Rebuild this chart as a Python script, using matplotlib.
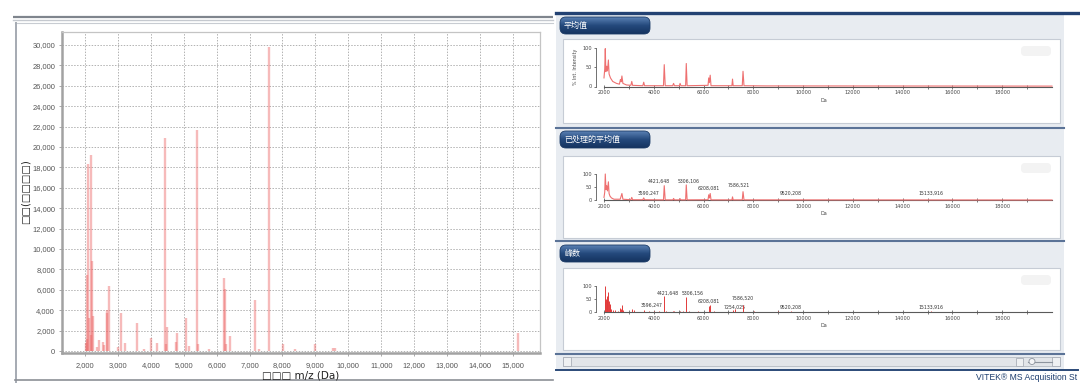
import matplotlib
matplotlib.use('Agg')
import matplotlib.pyplot as plt
from matplotlib.patches import Rectangle, FancyBboxPatch
from matplotlib.colors import LinearSegmentedColormap
import numpy as np

plt.rcParams['font.family'] = ['DejaVu Sans']

# ---------------- data ----------------
# left chart: peak list (m/z, intensity)
main_mz = [2031, 2052, 2062, 2092, 2122, 2173, 2195, 2225, 2255, 2376, 2437, 2547, 2578,
           2659, 2680, 2720, 3012, 3110, 3210, 3588, 3790, 4016, 4198, 4425, 4450, 4500,
           4776, 4807, 5065, 5161, 5415, 5430, 5777, 6225, 6267, 6280, 6413, 7164, 7290,
           7580, 8010, 8395, 8980, 9543, 9585, 15146]
main_int = [750, 7500, 1200, 18360, 3250, 19170, 1560, 8800, 3420, 420, 1070, 900, 600,
            3990, 3680, 6340, 400, 3680, 750, 2700, 200, 1300, 750, 20870, 650, 2400,
            850, 1800, 3200, 500, 21620, 650, 200, 7170, 6030, 650, 1500, 4990, 200,
            29770, 680, 200, 650, 260, 260, 1730]
main_xticks = list(range(2000, 16000, 1000))
main_yticks = list(range(0, 32000, 2000))
main_xlabel = "□□□ m/z (Da)"
main_ylabel = "□□(□□□□)"

# right panel 1: average spectrum (profile points)
avg_mz = [2000, 2030, 2052, 2075, 2110, 2140, 2177, 2205, 2260, 2350, 2500, 2620, 2660, 2690,
          2720, 2760, 2900, 3080, 3116, 3150, 3560, 3596, 3630, 4390, 4421, 4460, 4760, 4796,
          4830, 5030, 5057, 5090, 5280, 5306, 5340, 6180, 6208, 6235, 6267, 6300, 7140, 7164,
          7190, 7555, 7586, 7625, 8500, 20000]
avg_pct = [22, 45, 97, 38, 52, 40, 68, 32, 22, 13, 8, 6, 18, 12,
           27, 8, 4, 3, 13, 3, 2, 11, 2, 2, 56, 2, 2, 8,
           2, 2, 8, 2, 2, 59, 2, 3, 22, 10, 29, 2, 2, 19,
           2, 2, 39, 2, 1.5, 1]

# right panel 2: processed average spectrum (profile points)
proc_mz = [2000, 2030, 2052, 2080, 2110, 2140, 2177, 2205, 2240, 2300, 2400, 2650, 2680, 2720,
           2760, 3080, 3116, 3150, 3560, 3596, 3630, 4390, 4421, 4460, 4770, 4796, 4830, 5030,
           5057, 5090, 5280, 5306, 5340, 6180, 6208, 6235, 6267, 6300, 7140, 7164, 7190, 7555,
           7586, 7625, 20000]
proc_pct = [10, 30, 100, 40, 55, 35, 70, 25, 15, 8, 3, 3, 12, 25,
            3, 1, 10, 1, 1, 8, 1, 0.5, 55, 0.5, 0.5, 6, 0.5, 0.5,
            5, 0.5, 0.5, 58, 0.5, 1, 20, 8, 25, 0.5, 0.5, 12, 0.5, 0.5,
            32, 0.5, 0]
proc_labels = ["3590,247", "4421,648", "5306,106", "6208,081", "7586,521", "9520,208", "15133,916"]
proc_lab_mz = [3590, 4421, 5306, 6208, 7586, 9520, 15133]
proc_lab_y = [27, 73, 73, 46, 58, 27, 27]
proc_lab_dx = [5, -5, 2, 0, -4, 0, 0]          # label nudges in pixels (layout)

# right panel 3: peak list (sticks)
stick_mz = [2030, 2052, 2080, 2110, 2130, 2177, 2200, 2225, 2255, 2300, 2376, 2437, 2547, 2659,
            2680, 2720, 2760, 3108, 3210, 3596, 3790, 4016, 4198, 4421, 4500, 4776, 4807, 5068,
            5161, 5306, 5432, 5777, 6208, 6267, 6413, 7164, 7254, 7586, 8010, 8395, 8980, 9520,
            15133]
stick_pct = [40, 100, 50, 60, 45, 75, 40, 30, 20, 10, 6, 8, 5, 15,
             12, 25, 8, 10, 6, 6, 2, 4, 3, 60, 3, 3, 5, 4,
             2, 58, 3, 2, 22, 25, 5, 8, 10, 28, 2, 1, 2, 3,
             2]
peak_labels = ["3596,247", "4421,648", "5306,156", "6208,081", "7254,025", "7586,520", "9520,208", "15133,916"]
peak_lab_mz = [3596, 4421, 5306, 6208, 7254, 7586, 9520, 15133]
peak_lab_y = [24, 73, 73, 39, 19, 54, 19, 19]
peak_lab_dx = [8, 4, 6, 0, 0, 0, 0, 0]         # label nudges in pixels (layout)

tab_titles = ["平均值", "已处理的平均值", "峰数"]
small_major = list(range(2000, 20000, 2000))
small_minor = list(range(3000, 20001, 2000))
footer = "VITEK® MS Acquisition St"

# ---------------- figure ----------------
W, H = 1080, 383
fig = plt.figure(figsize=(W / 100, H / 100), dpi=100)


def rect(x0, y0, x1, y1):
    return [x0 / W, 1 - y1 / H, (x1 - x0) / W, (y1 - y0) / H]


bg = fig.add_axes([0, 0, 1, 1], zorder=0)
bg.axis('off')

# left panel frame
bg.plot([13, 553], [17, 17], color='#7f858d', lw=1.6, solid_capstyle='butt')
bg.plot([13, 553], [19.5, 19.5], color='#c5c9cf', lw=1.0)
bg.plot([15, 553], [22.5, 22.5], color='#c8ccd2', lw=0.8)
bg.plot([15.5, 15.5], [22.5, 383], color='#a5aab2', lw=1.4)
bg.plot([15, 553], [379.5, 379.5], color='#8c9096', lw=1.2)

# right panel frame
bg.add_patch(Rectangle((556, 14), 508, 355, fc='#e8ecf1', ec='none', zorder=1))
bg.plot([556, 1078], [13, 13], color='#234273', lw=2.4, zorder=2)
for yy in (128, 241, 354):
    bg.plot([556, 1064], [yy, yy], color='#5b7397', lw=1.5, zorder=2)
bg.plot([556, 1078], [369.5, 369.5], color='#2b4a78', lw=1.4, zorder=2)

boxes = [(39, 123), (156, 238), (268, 350)]
tabs_y = [17, 131, 245]
cmap_tab = LinearSegmentedColormap.from_list('tab', ['#5a80b3', '#24497c', '#15335f'])
grad = np.linspace(0, 1, 64).reshape(-1, 1)
for (by0, by1), ty, title in zip(boxes, tabs_y, tab_titles):
    bg.add_patch(Rectangle((563, by0), 497, by1 - by0, fc='white', ec='#c6ccd5', lw=0.8, zorder=2))
    bg.add_patch(FancyBboxPatch((1021, by0 + 7), 30, 10, boxstyle='round,pad=0,rounding_size=4',
                                fc='#f3f3f3', ec='none', zorder=3))
    tab = FancyBboxPatch((560, ty), 90, 17, boxstyle='round,pad=0,rounding_size=6',
                         fc='none', ec='#1a3a66', lw=0.6, zorder=4)
    bg.add_patch(tab)
    im = bg.imshow(grad, extent=(560, 650, ty + 17, ty), cmap=cmap_tab, aspect='auto',
                   origin='upper', zorder=3, interpolation='bilinear')
    im.set_clip_path(tab)
    bg.text(564, ty + 8.5, title, color='white', fontsize=5.8, va='center', ha='left', zorder=5,
            family=['Noto Sans CJK SC', 'DejaVu Sans'])

# scroll bar
bg.add_patch(Rectangle((563, 357), 497, 9, fc='#e2e5e9', ec='#b5bbc3', lw=0.6, zorder=2))
bg.add_patch(Rectangle((563, 357), 8, 9, fc='#eef0f2', ec='#a9afb8', lw=0.6, zorder=3))
bg.add_patch(Rectangle((1052, 357), 8, 9, fc='#eef0f2', ec='#a9afb8', lw=0.6, zorder=3))
bg.add_patch(Rectangle((1016, 357.5), 7, 8, fc='#eef0f2', ec='#a9afb8', lw=0.6, zorder=3))
bg.plot([1028, 1052], [361.5, 361.5], color='#8d949e', lw=0.8, zorder=3)
bg.add_patch(plt.Circle((1032, 361.5), 3, fc='#f4f5f7', ec='#8d949e', lw=0.6, zorder=4))
bg.text(1077, 378, footer, color='#1f3f6f', fontsize=6.2, va='center', ha='right', zorder=5,
        family=['Liberation Sans', 'DejaVu Sans'])

bg.set_xlim(0, W)
bg.set_ylim(H, 0)

# ---------------- main chart ----------------
ax = fig.add_axes(rect(62, 32.3, 540, 352.7), zorder=2)
ax.set_xlim(1307, 15820)
ax.set_ylim(-165, 31240)
ax.vlines(main_mz, 0, main_int, colors='#ec6767', alpha=0.45, lw=1.7, zorder=3)
ax.set_xticks(main_xticks)
ax.set_xticklabels([f'{v:,}' for v in main_xticks])
ax.set_yticks(main_yticks)
ax.set_yticklabels([f'{v:,}' for v in main_yticks])
ax.grid(True, color='#b2b2b2', lw=0.7, ls=(0, (1.5, 1.5)))
ax.set_axisbelow(True)
for s in ('left', 'bottom'):
    ax.spines[s].set_color('#a2a2a2')
    ax.spines[s].set_linewidth(1.8)
for s in ('top', 'right'):
    ax.spines[s].set_color('#c4c4c4')
    ax.spines[s].set_linewidth(0.9)
ax.tick_params(labelsize=5.4, labelcolor='#555555', color='#9a9a9a', length=2.5, width=0.6, pad=2.5)
ax.tick_params(axis='x', pad=4.5)
for lab in ax.get_xticklabels() + ax.get_yticklabels():
    lab.set_family(['Liberation Sans', 'DejaVu Sans'])
fig.text(301 / W, 1 - 376 / H, main_xlabel, fontsize=7.5, ha='center', va='center', color='#222222')
fig.text(26 / W, 1 - 192 / H, main_ylabel, fontsize=7.2, ha='center', va='center', rotation=90,
         color='#222222')


# ---------------- small charts ----------------
def small_axes(y_top, y_bot):
    a = fig.add_axes(rect(596, y_top, 1052, y_bot), zorder=3)
    a.patch.set_alpha(0)
    a.set_xlim(1679, 20000)
    a.set_ylim(0, 100)
    for s in ('top', 'right'):
        a.spines[s].set_visible(False)
    a.spines['bottom'].set_bounds(2000, 20000)
    a.spines['bottom'].set_color('#5a5a5a')
    a.spines['bottom'].set_linewidth(0.8)
    a.spines['left'].set_color('#5a5a5a')
    a.spines['left'].set_linewidth(0.6)
    a.set_xticks(small_major)
    a.set_xticks(small_minor, minor=True)
    a.set_xticklabels([str(v) for v in small_major])
    a.set_yticks([0, 50, 100])
    a.tick_params(axis='x', which='both', direction='inout', length=2.2, width=0.5, color='#444444',
                  labelsize=3.6, labelcolor='#444444', pad=1.5)
    a.tick_params(axis='y', direction='out', length=1.8, width=0.5, color='#444444',
                  labelsize=3.6, labelcolor='#444444', pad=1.2)
    return a


def put_labels(a, texts, mzs, ys, dxs):
    for t, m, yv, dx in zip(texts, mzs, ys, dxs):
        a.annotate(t, (m, yv), xytext=(dx * 0.72, 0), textcoords='offset points',
                   fontsize=3.3, color='#333333', ha='center', va='center', annotation_clip=False)


ax1 = small_axes(47.5, 86.5)
ax1.plot(avg_mz, avg_pct, color='#ee7070', lw=0.8, clip_on=False, zorder=4)
ax1.set_xlabel('Da', fontsize=3.6, color='#444444', labelpad=2)
ax1.set_ylabel('% Int. Intensity', fontsize=3.4, color='#444444', labelpad=3)

ax2 = small_axes(174, 200)
ax2.plot(proc_mz, proc_pct, color='#ee7070', lw=0.8, clip_on=False, zorder=4)
ax2.set_xlabel('Da', fontsize=3.6, color='#444444', labelpad=2)
put_labels(ax2, proc_labels, proc_lab_mz, proc_lab_y, proc_lab_dx)

ax3 = small_axes(285.7, 312)
ax3.vlines(stick_mz, 0, stick_pct, colors='#e23a3a', lw=0.7, zorder=4)
ax3.set_xlabel('Da', fontsize=3.6, color='#444444', labelpad=2)
put_labels(ax3, peak_labels, peak_lab_mz, peak_lab_y, peak_lab_dx)

fig.savefig('out.png', dpi=100)
